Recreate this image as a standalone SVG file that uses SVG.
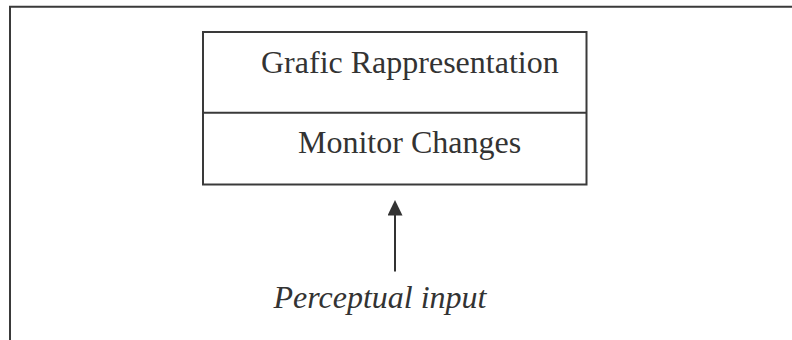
<svg xmlns="http://www.w3.org/2000/svg" width="792" height="340" viewBox="0 0 792 340">
  <style>
    .ln { stroke: #3a3a3a; stroke-width: 2; fill: none; }
    .t { font-family: "Liberation Serif", "Times New Roman", serif; font-size: 32px; fill: #333333; }
    .it { font-style: italic; }
    .conn { stroke: #333333; stroke-width: 2; fill: none; marker-end: url(#arrow); }
  </style>
  <defs>
    <marker id="arrow" markerWidth="16" markerHeight="15" refX="0.5" refY="7.5" orient="auto" markerUnits="userSpaceOnUse" viewBox="0 0 16 15">
      <path d="M0,0 L15.5,7.5 L0,15 Z" fill="#333333"/>
    </marker>
  </defs>
  <rect width="792" height="340" fill="#ffffff"/>
  <g id="frame">
    <path class="ln" d="M10,341 L10,6.7 L793,6.7"/>
  </g>
  <g id="node-box">
    <rect class="ln" x="203" y="32" width="383.5" height="152.5"/>
    <line class="ln" x1="203" y1="112.7" x2="586.5" y2="112.7"/>
    <text class="t" x="261" y="73">Grafic Rappresentation</text>
    <text class="t" x="298" y="153">Monitor Changes</text>
  </g>
  <g id="node-input">
    <text class="t it" x="273.5" y="308">Perceptual input</text>
  </g>
  <g id="connectors">
    <path class="conn" d="M395,271.5 L395,215"/>
  </g>
</svg>
